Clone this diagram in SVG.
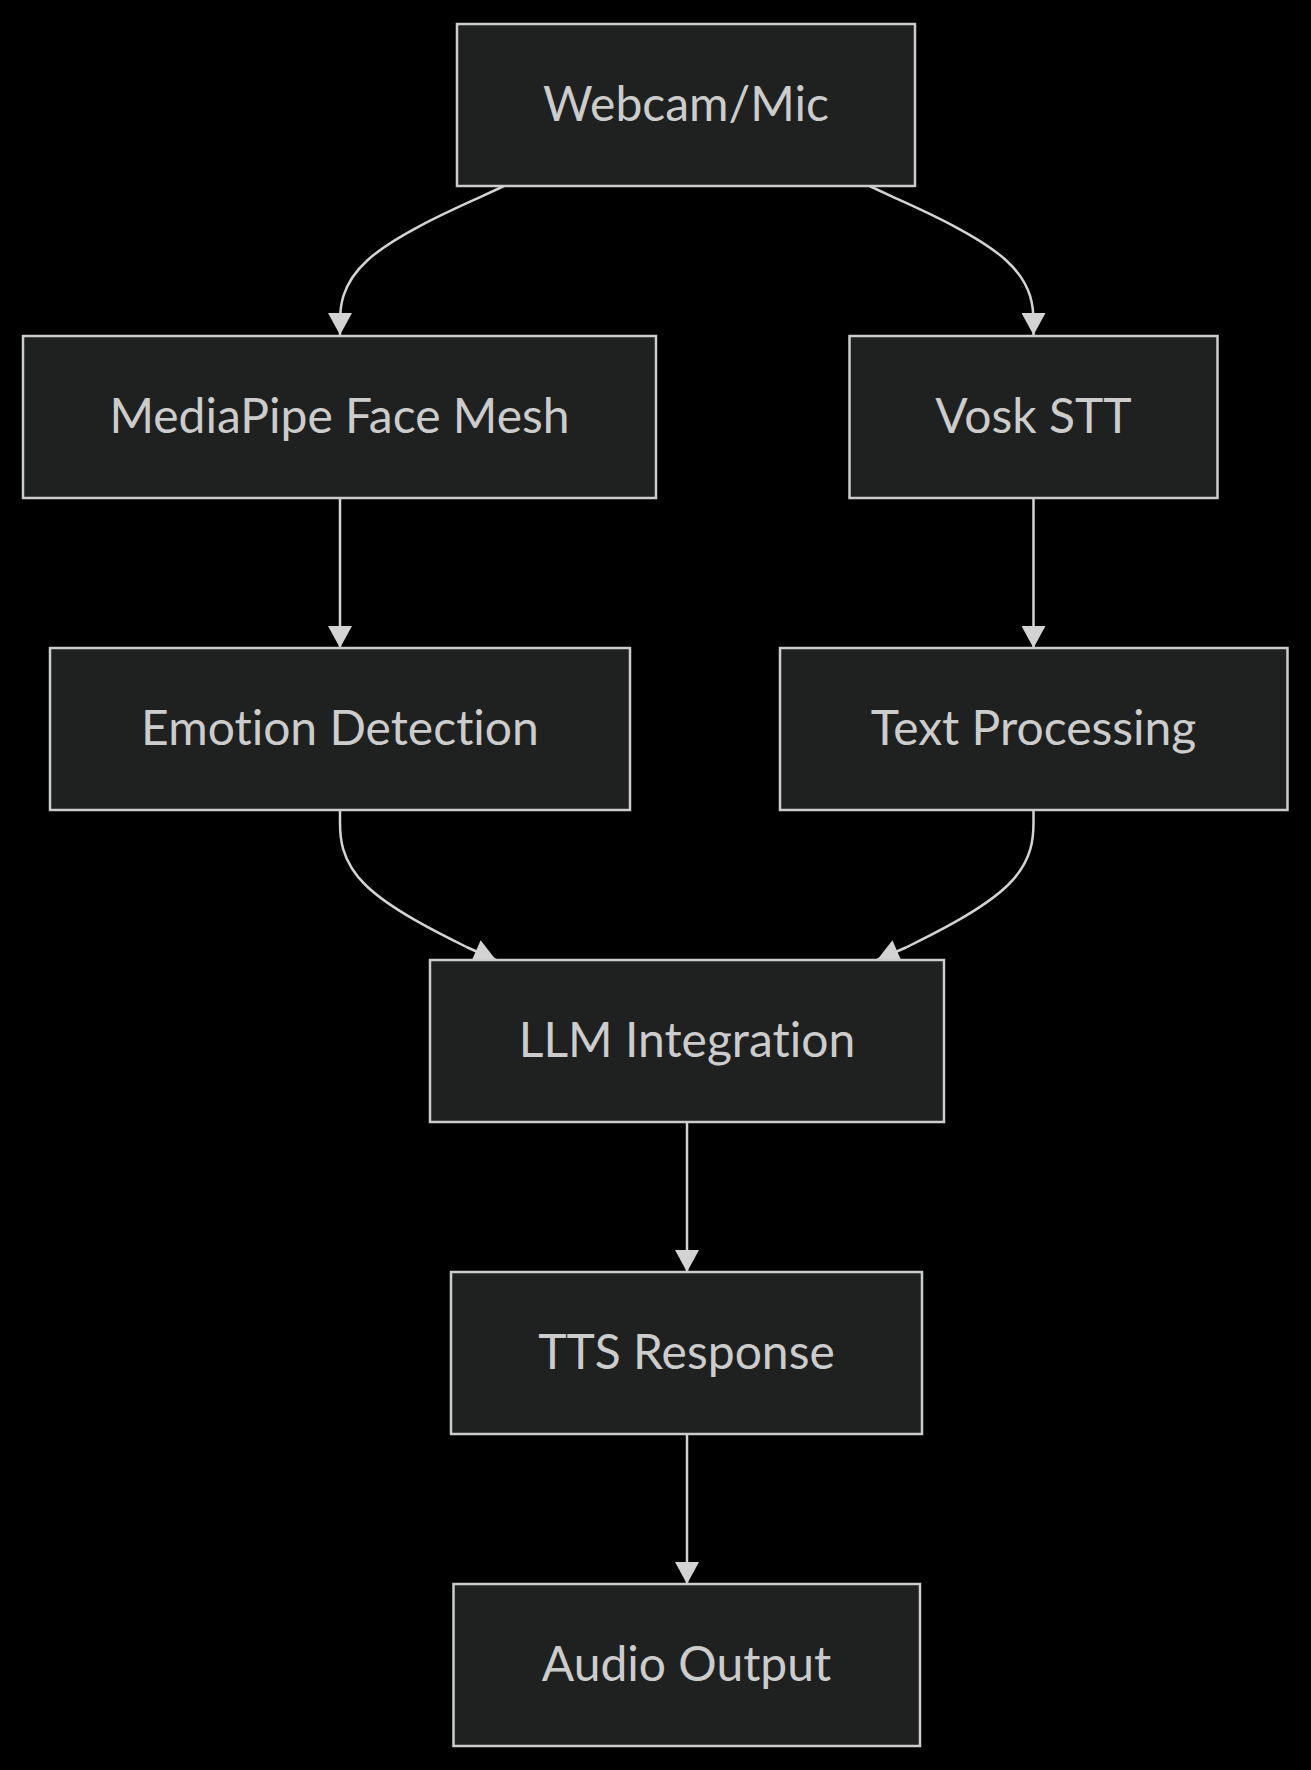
<svg xmlns="http://www.w3.org/2000/svg" width="1311" height="1770" viewBox="0 0 1311 1770">
<style>
.bg{fill:#000000}
.node rect{fill:#1f2020;stroke:#cccccc;stroke-width:2.5}
.node text{fill:#cccccc;font-family:"Trebuchet MS","Lato","Noto Sans",sans-serif;font-size:48px;text-anchor:middle;font-variant-ligatures:none}
.edge{fill:none;stroke:#d3d3d3;stroke-width:2.5}
</style>
<defs>
<marker id="arrow" markerUnits="userSpaceOnUse" markerWidth="24" markerHeight="24" viewBox="0 0 22 24" refX="22" refY="12" orient="auto">
<path d="M0,0 L22,12 L0,24 z" fill="#d3d3d3"/>
</marker>
</defs>
<rect class="bg" x="0" y="0" width="1311" height="1770"/>
<g id="connectors">
<path class="edge" marker-end="url(#arrow)" d="M504,186 L477.5,198.3 C450,210.7 395,235.3 367.5,260.2 C340,285 340,310 340,322.5 L340,335"/>
<path class="edge" marker-end="url(#arrow)" d="M869.5,186 L896,198.3 C923.5,210.7 978.5,235.3 1006,260.2 C1033.5,285 1033.5,310 1033.5,322.5 L1033.5,335"/>
<path class="edge" marker-end="url(#arrow)" d="M340,499 L340,648"/>
<path class="edge" marker-end="url(#arrow)" d="M1033.5,499 L1033.5,648"/>
<path class="edge" marker-end="url(#arrow)" d="M340,810 L340,822.5 C340,835 340,860 365.5,885 C391,910 442,935 467.5,947.5 L496,960"/>
<path class="edge" marker-end="url(#arrow)" d="M1033.5,810 L1033.5,822.5 C1033.5,835 1033.5,860 1008,885 C982.5,910 931.5,935 906,947.5 L877,960"/>
<path class="edge" marker-end="url(#arrow)" d="M687,1122 L687,1272"/>
<path class="edge" marker-end="url(#arrow)" d="M687,1434 L687,1584"/>
</g>
<g id="node-webcam" class="node">
<rect x="457" y="24" width="458" height="162"/>
<text x="686" y="121">Webcam/Mic</text>
</g>
<g id="node-mediapipe" class="node">
<rect x="23" y="336" width="633" height="162"/>
<text x="339.5" y="433">MediaPipe Face Mesh</text>
</g>
<g id="node-vosk" class="node">
<rect x="849.5" y="336" width="368" height="162"/>
<text x="1033.5" y="433">Vosk STT</text>
</g>
<g id="node-emotion" class="node">
<rect x="50" y="648" width="580" height="162"/>
<text x="340" y="745">Emotion Detection</text>
</g>
<g id="node-textproc" class="node">
<rect x="780" y="648" width="507.5" height="162"/>
<text x="1033.5" y="745">Text Processing</text>
</g>
<g id="node-llm" class="node">
<rect x="430" y="960" width="514" height="162"/>
<text x="687" y="1057">LLM Integration</text>
</g>
<g id="node-tts" class="node">
<rect x="451" y="1272" width="471" height="162"/>
<text x="686.5" y="1369">TTS Response</text>
</g>
<g id="node-audio" class="node">
<rect x="453.5" y="1584" width="466.5" height="162"/>
<text x="686.5" y="1681">Audio Output</text>
</g>
</svg>
